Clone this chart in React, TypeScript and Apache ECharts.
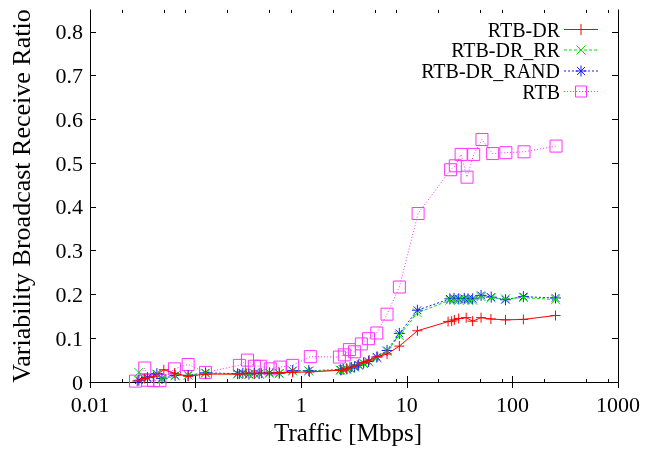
import React, { useEffect, useRef } from "react";
import * as echarts from "echarts";

// ---- data ----
const drX = [0.028, 0.033, 0.04, 0.05, 0.063, 0.085, 0.125, 0.26, 0.3, 0.36, 0.42, 0.5, 0.62, 0.83, 1.2, 2.4, 2.7, 3.0, 3.4, 3.9, 4.4, 5.3, 6.5, 8.5, 12.6, 24.6, 26.6, 28.2, 31, 36.5, 42, 50.5, 62.6, 86, 127, 256];
const drY = [0.002, 0.008, 0.012, 0.028, 0.02, 0.013, 0.018, 0.018, 0.02, 0.019, 0.02, 0.02, 0.021, 0.022, 0.023, 0.027, 0.03, 0.034, 0.038, 0.045, 0.05, 0.058, 0.064, 0.082, 0.117, 0.138, 0.139, 0.142, 0.145, 0.147, 0.139, 0.147, 0.144, 0.142, 0.143, 0.152];

const rrX = [0.029, 0.035, 0.043, 0.048, 0.064, 0.085, 0.124, 0.25, 0.28, 0.32, 0.36, 0.4, 0.5, 0.62, 0.83, 1.18, 2.35, 2.5, 2.7, 2.9, 3.2, 3.5, 3.9, 4.35, 5.2, 6.5, 8.5, 12.6, 25.6, 28, 31, 35, 38, 42, 50.5, 63, 86, 127, 256];
const rrY = [0.022, 0.008, 0.017, 0.006, 0.014, 0.016, 0.02, 0.018, 0.019, 0.017, 0.019, 0.018, 0.02, 0.019, 0.025, 0.025, 0.027, 0.028, 0.029, 0.031, 0.034, 0.038, 0.042, 0.046, 0.055, 0.07, 0.106, 0.158, 0.187, 0.188, 0.187, 0.188, 0.187, 0.187, 0.195, 0.192, 0.19, 0.193, 0.188];

const randX = [0.029, 0.035, 0.043, 0.048, 0.064, 0.085, 0.124, 0.25, 0.28, 0.32, 0.36, 0.4, 0.5, 0.62, 0.83, 1.18, 2.35, 2.5, 2.7, 2.9, 3.2, 3.5, 3.9, 4.35, 5.2, 6.5, 8.5, 12.6, 25.6, 28, 31, 35, 38, 42, 50.5, 63, 86, 127, 256];
const randY = [0.004, 0.01, 0.019, 0.008, 0.015, 0.015, 0.021, 0.019, 0.02, 0.018, 0.02, 0.019, 0.021, 0.02, 0.026, 0.026, 0.028, 0.029, 0.03, 0.032, 0.035, 0.039, 0.043, 0.047, 0.057, 0.072, 0.111, 0.164, 0.19, 0.191, 0.19, 0.191, 0.19, 0.19, 0.198, 0.194, 0.188, 0.195, 0.192];

const rtbX = [0.027, 0.033, 0.035, 0.04, 0.046, 0.063, 0.085, 0.124, 0.26, 0.31, 0.36, 0.41, 0.51, 0.63, 0.83, 1.22, 2.3, 2.56, 2.86, 3.19, 3.71, 4.34, 5.2, 6.5, 8.5, 12.8, 26, 28.8, 32.7, 37.2, 43, 51.5, 65, 86.7, 128.8, 259];
const rtbY = [0.002, 0.032, 0.004, 0.003, 0.003, 0.03, 0.04, 0.022, 0.038, 0.05, 0.036, 0.036, 0.03, 0.034, 0.038, 0.058, 0.057, 0.062, 0.074, 0.069, 0.087, 0.099, 0.112, 0.155, 0.217, 0.385, 0.485, 0.494, 0.52, 0.468, 0.52, 0.554, 0.522, 0.524, 0.526, 0.539];

const seriesNames = ["RTB-DR", "RTB-DR_RR", "RTB-DR_RAND", "RTB"];
const xMinorTicks = [0.02, 0.05, 0.08, 0.2, 0.5, 0.8, 2, 5, 8, 20, 50, 80, 200, 500, 800];
const yTickLabels = [0, 0.1, 0.2, 0.3, 0.4, 0.5, 0.6, 0.7, 0.8];

const FONT = "Liberation Serif";
const COLORS = ["#ff0000", "#00e000", "#1a1aff", "#ff33ff"];
const CLEAR = "rgba(255,255,255,0)";

const pair = (xs: number[], ys: number[]) => xs.map((x, i) => [x, ys[i]]);

const SYM_PLUS = "path://M5,0L5,10M0,5L10,5";
const SYM_CROSS = "path://M0,0L10,10M10,0L0,10";
const SYM_STAR = "path://M5,0L5,10M0,5L10,5M1.5,1.5L8.5,8.5M8.5,1.5L1.5,8.5";
const SYM_SQUARE = "path://M0,0L10,0L10,10L0,10Z";

export default function App() {
  const ref = useRef<HTMLDivElement>(null);
  useEffect(() => {
    if (!ref.current) return;
    const chart = echarts.init(ref.current, undefined, { renderer: "svg" });
    const fmtLog = (v: number) => String(Number(v.toPrecision(6)));
    const baseX = {
      type: "log",
      logBase: 10,
      min: 0.01,
      max: 1000,
      splitLine: { show: false },
    };
    const baseY = {
      type: "value",
      min: 0,
      max: 0.85,
      interval: 0.1,
      splitLine: { show: false },
    };
    const lineDefs: any[] = [
      { sym: SYM_PLUS, size: 10, dash: "solid" },
      { sym: SYM_CROSS, size: 9, dash: [3, 2] },
      { sym: SYM_STAR, size: 11, dash: [2, 2] },
      { sym: SYM_SQUARE, size: 12, dash: [1, 2] },
    ];
    const datas = [pair(drX, drY), pair(rrX, rrY), pair(randX, randY), pair(rtbX, rtbY)];
    const series = datas.map((d, i) => ({
      name: seriesNames[i],
      type: "line",
      xAxisIndex: 0,
      yAxisIndex: 0,
      data: d,
      symbol: lineDefs[i].sym,
      symbolSize: lineDefs[i].size,
      showAllSymbol: true,
      lineStyle: { color: COLORS[i], width: 1, type: lineDefs[i].dash },
      itemStyle: { color: CLEAR, borderColor: COLORS[i], borderWidth: 1 },
      z: 2 + (3 - i),
    }));

    const legendX = 560;
    const legendYs = [29.5, 50, 71, 91.5];
    const lx0 = 564, lx1 = 598, lc = 581;
    const graphic: any[] = [];
    legendYs.forEach((y, i) => {
      graphic.push({
        type: "text",
        x: legendX,
        y,
        style: { text: seriesNames[i], fill: "#000", fontFamily: FONT, fontSize: 20, align: "right", verticalAlign: "middle" },
      });
      const ls: any = { stroke: COLORS[i], lineWidth: 1 };
      if (i > 0) ls.lineDash = lineDefs[i].dash;
      graphic.push({ type: "line", shape: { x1: lx0, y1: y, x2: lx1, y2: y }, style: ls });
    });
    const s = 5.5;
    graphic.push({ type: "line", shape: { x1: lc - s, y1: legendYs[0], x2: lc + s, y2: legendYs[0] }, style: { stroke: COLORS[0], lineWidth: 1 } });
    graphic.push({ type: "line", shape: { x1: lc, y1: legendYs[0] - s, x2: lc, y2: legendYs[0] + s }, style: { stroke: COLORS[0], lineWidth: 1 } });
    const c = 4.5;
    graphic.push({ type: "line", shape: { x1: lc - c, y1: legendYs[1] - c, x2: lc + c, y2: legendYs[1] + c }, style: { stroke: COLORS[1], lineWidth: 1 } });
    graphic.push({ type: "line", shape: { x1: lc + c, y1: legendYs[1] - c, x2: lc - c, y2: legendYs[1] + c }, style: { stroke: COLORS[1], lineWidth: 1 } });
    const st = 5.5, sd = 4;
    [[lc - st, legendYs[2], lc + st, legendYs[2]], [lc, legendYs[2] - st, lc, legendYs[2] + st], [lc - sd, legendYs[2] - sd, lc + sd, legendYs[2] + sd], [lc + sd, legendYs[2] - sd, lc - sd, legendYs[2] + sd]].forEach((p) =>
      graphic.push({ type: "line", shape: { x1: p[0], y1: p[1], x2: p[2], y2: p[3] }, style: { stroke: COLORS[2], lineWidth: 1 } })
    );
    graphic.push({ type: "rect", shape: { x: lc - 5.5, y: legendYs[3] - 5.5, width: 11, height: 11 }, style: { stroke: COLORS[3], fill: CLEAR, lineWidth: 1 } });

    const option: any = {
      animation: false,
      grid: { left: 87, right: 27, top: 10, bottom: 65 },
      xAxis: [
        {
          ...baseX,
          position: "bottom",
          name: "Traffic [Mbps]",
          nameLocation: "middle",
          nameGap: 38,
          nameTextStyle: { fontFamily: FONT, fontSize: 25, color: "#000", padding: [0, 12, 0, 0] },
          axisLine: { show: true, lineStyle: { color: "#000", width: 1 } },
          axisTick: { show: true, inside: true, length: 6, lineStyle: { color: "#000" } },
          axisLabel: { show: true, margin: 11, fontFamily: FONT, fontSize: 22, color: "#000", formatter: fmtLog },
        },
        {
          ...baseX,
          position: "top",
          axisLine: { show: true, lineStyle: { color: "#000", width: 1 } },
          axisTick: { show: true, inside: true, length: 6, lineStyle: { color: "#000" } },
          axisLabel: { show: false },
        },
        {
          ...baseX,
          position: "bottom",
          axisLine: { show: false },
          axisTick: { show: true, inside: true, length: 3, customValues: xMinorTicks, lineStyle: { color: "#000" } },
          axisLabel: { show: false },
        },
        {
          ...baseX,
          position: "top",
          axisLine: { show: false },
          axisTick: { show: true, inside: true, length: 3, customValues: xMinorTicks, lineStyle: { color: "#000" } },
          axisLabel: { show: false },
        },
      ],
      yAxis: [
        {
          ...baseY,
          position: "left",
          name: "Variability Broadcast Receive Ratio",
          nameLocation: "middle",
          nameGap: 56,
          nameTextStyle: { fontFamily: FONT, fontSize: 26, color: "#000" },
          axisLine: { show: true, lineStyle: { color: "#000", width: 1 } },
          axisTick: { show: true, inside: true, length: 6, customValues: yTickLabels, lineStyle: { color: "#000" } },
          axisLabel: { show: true, margin: 7, fontFamily: FONT, fontSize: 22, color: "#000", customValues: yTickLabels },
        },
        {
          ...baseY,
          position: "right",
          axisLine: { show: true, lineStyle: { color: "#000", width: 1 } },
          axisTick: { show: true, inside: true, length: 6, customValues: yTickLabels, lineStyle: { color: "#000" } },
          axisLabel: { show: false },
        },
      ],
      series,
      graphic,
    };
    chart.setOption(option);
    return () => chart.dispose();
  }, []);
  return <div ref={ref} style={{ position: "fixed", left: 0, top: 0, width: 645, height: 450 }} />;
}
